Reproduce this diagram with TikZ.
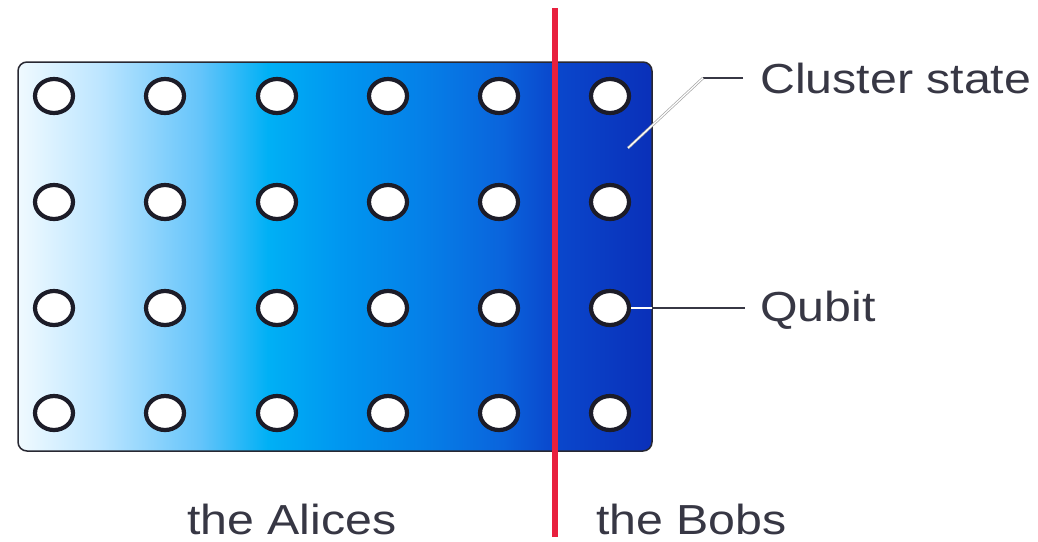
\documentclass[tikz,border=0pt]{standalone}
\usepackage{fontspec}
\setmainfont{Liberation Sans}
\usetikzlibrary{shapes.geometric}
\definecolor{cA}{RGB}{240,250,255}
\definecolor{cB}{RGB}{190,230,255}
\definecolor{cC}{RGB}{100,196,250}
\definecolor{cD}{RGB}{0,176,245}
\definecolor{cE}{RGB}{0,150,240}
\definecolor{cF}{RGB}{5,128,232}
\definecolor{cG}{RGB}{10,100,220}
\definecolor{cH}{RGB}{10,72,205}
\definecolor{cI}{RGB}{10,48,185}
\definecolor{txt}{RGB}{55,55,68}
\definecolor{redline}{RGB}{232,32,62}
\definecolor{frame}{RGB}{40,40,50}
\definecolor{ring}{RGB}{28,28,40}
\pgfdeclarehorizontalshading{clustershade}{100bp}{%
  color(0bp)=(cA);
  color(25bp)=(cA);
  color(31.3bp)=(cB);
  color(39.4bp)=(cC);
  color(44.7bp)=(cD);
  color(50.5bp)=(cE);
  color(56.9bp)=(cF);
  color(63.2bp)=(cG);
  color(67.1bp)=(cH);
  color(75bp)=(cI);
  color(100bp)=(cI)}
\tikzset{
  qubit/.style={ellipse, draw=ring, fill=white, line width=4.2pt, minimum width=38pt, minimum height=34pt, inner sep=0pt},
  lbl/.style={anchor=base west, inner sep=0pt, text=txt, font=\fontsize{42}{42}\selectfont},
  leader/.style={draw=txt, line width=1.6pt},
  leaderlight/.style={draw=gray!70, double=white, double distance=1.2pt, line width=0.7pt},
}
\begin{document}
\begin{tikzpicture}[x=1pt,y=-1pt]
\useasboundingbox (0,0) rectangle (1038,541);
\fill[white] (0,0) rectangle (1038,541);
% cluster state block
\path[shading=clustershade, draw=frame, line width=1.5pt, rounded corners=9pt] (18,62) rectangle (652,451);
% qubits
\foreach \r/\y in {1/96,2/202,3/308,4/413}{
  \foreach \c/\x in {1/54,2/165,3/277,4/388,5/499,6/610}{
    \node[qubit] (q-\r-\c) at (\x,\y) {};
  }
}
% red divider
\coordinate (rtop) at (555,8);
\coordinate (rbot) at (555,537);
\draw[redline, line width=6pt] (rtop) -- (rbot);
% labels
\node[lbl] (cs) at (760,93) {\scalebox{1.15}[1]{Cluster state}};
\node[lbl] (qb) at (760,321) {\scalebox{1.15}[1]{Qubit}};
\node[lbl] (al) at (187,534) {\scalebox{1.15}[1]{the Alices}};
\node[lbl] (bo) at (596,534) {\scalebox{1.15}[1]{the Bobs}};
% leader lines
\coordinate (csend) at (743,78);
\coordinate (csknee) at (703,78);
\coordinate (cstip) at (628,148);
\draw[leader] (csend) -- (csknee);
\draw[leaderlight] (csknee) -- (cstip);
\coordinate (qbend) at (745,308);
\coordinate (qbedge) at (652,308);
\draw[leader] (qbedge) -- (qbend);
\draw[leaderlight] (q-3-6.east) -- (qbedge);
\end{tikzpicture}
\end{document}
